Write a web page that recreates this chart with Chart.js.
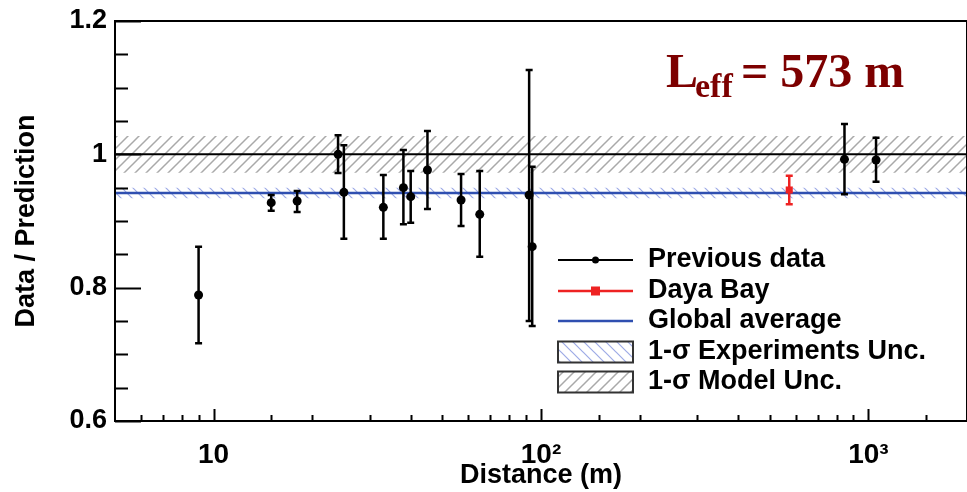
<!DOCTYPE html>
<html>
<head>
<meta charset="utf-8">
<script src="https://cdn.jsdelivr.net/npm/chart.js@4.4.1/dist/chart.umd.min.js"></script>
<style>
html, body { margin: 0; padding: 0; background: #fff; overflow: hidden; }
</style>
</head>
<body>
<canvas id="ratioChart" width="972" height="492"></canvas>
<script>
// previous reactor measurements: baseline (m), ratio and 1-sigma range
var prevDistance = [9, 15, 18, 24, 25, 33, 38, 40, 45, 57, 65, 92, 94, 845, 1055];
var prevRatio    = [0.789, 0.9275, 0.930, 1.000, 0.943, 0.9205, 0.950, 0.9365, 0.9765, 0.9315, 0.910, 0.939, 0.8615, 0.9925, 0.9915];
var prevLow      = [0.7165, 0.9155, 0.9135, 0.972, 0.8735, 0.8735, 0.895, 0.8975, 0.918, 0.8925, 0.8465, 0.750, 0.7425, 0.940, 0.959];
var prevHigh     = [0.8615, 0.939, 0.945, 1.0285, 1.0135, 0.969, 1.0065, 0.975, 1.035, 0.9705, 0.975, 1.1265, 0.9815, 1.0455, 1.025];

// Daya Bay
var dybDistance = [573];
var dybRatio    = [0.9465];
var dybLow      = [0.925];
var dybHigh     = [0.968];

// global average and uncertainty bands
var globalAvg = 0.942;
var expBand   = [0.934, 0.950];
var modelBand = [0.9725, 1.0275];
var xRange    = [5, 2000];
var yRange    = [0.6, 1.2];

// tick labels
var xTickValues = [10, 100, 1000];
var xTickLabels = ['10', '10\u00B2', '10\u00B3'];
var yTickValues = [0.6, 0.8, 1.0, 1.2];
var yTickLabels = ['0.6', '0.8', '1', '1.2'];

var legendLabels = ['Previous data', 'Daya Bay', 'Global average', '1-\u03C3 Experiments Unc.', '1-\u03C3 Model Unc.'];

var canvas = document.getElementById('ratioChart');
var ctx = canvas.getContext('2d');

// diagonal hatch patterns, like the ROOT fill styles
function hatch(color, width, dir) {
  var s = 11;
  var c = document.createElement('canvas');
  c.width = s; c.height = s;
  var g = c.getContext('2d');
  g.strokeStyle = color;
  g.lineWidth = width;
  g.beginPath();
  if (dir > 0) {
    g.moveTo(-1, s + 1); g.lineTo(s + 1, -1);
    g.moveTo(-2, 2); g.lineTo(2, -2);
    g.moveTo(s - 2, s + 2); g.lineTo(s + 2, s - 2);
  } else {
    g.moveTo(-1, -1); g.lineTo(s + 1, s + 1);
    g.moveTo(s - 2, -2); g.lineTo(s + 2, 2);
    g.moveTo(-2, s - 2); g.lineTo(2, s + 2);
  }
  g.stroke();
  return ctx.createPattern(c, 'repeat');
}
var modelPattern = hatch('#a9a9a9', 1.5, 1);
var expPattern = hatch('#9daae6', 1.2, -1);

function pts(xs, ys) {
  return xs.map(function (x, i) { return { x: x, y: ys[i] }; });
}
function findIdx(arr, v) {
  for (var i = 0; i < arr.length; i++) {
    if (Math.abs(arr[i] - v) < 1e-6 * Math.max(1, arr[i])) return i;
  }
  return -1;
}

var decor = {
  id: 'decor',
  // error bars go under the markers
  beforeDatasetDraw: function (chart, args) {
    var ds = chart.data.datasets[args.index];
    if (!ds.errLow) return;
    var c = chart.ctx, xs = chart.scales.x, ys = chart.scales.y;
    c.save();
    c.strokeStyle = ds.pointBackgroundColor;
    c.lineWidth = 2.5;
    ds.data.forEach(function (p, i) {
      var px = xs.getPixelForValue(p.x);
      var y1 = ys.getPixelForValue(ds.errLow[i]);
      var y2 = ys.getPixelForValue(ds.errHigh[i]);
      c.beginPath();
      c.moveTo(px, y1); c.lineTo(px, y2);
      c.moveTo(px - 3.5, y1); c.lineTo(px + 3.5, y1);
      c.moveTo(px - 3.5, y2); c.lineTo(px + 3.5, y2);
      c.stroke();
    });
    c.restore();
  },
  afterDraw: function (chart) {
    var c = chart.ctx, a = chart.chartArea, xs = chart.scales.x, ys = chart.scales.y;
    c.save();
    // frame
    c.strokeStyle = '#000';
    c.lineWidth = 2;
    c.strokeRect(a.left, a.top, a.right - a.left, a.bottom - a.top);
    // inward ticks
    c.beginPath();
    ys.ticks.forEach(function (t) {
      var py = Math.round(ys.getPixelForValue(t.value)) + 0.5;
      var len = findIdx(yTickValues, t.value) >= 0 ? 26 : 13;
      c.moveTo(a.left, py); c.lineTo(a.left + len, py);
    });
    xs.ticks.forEach(function (t) {
      if (t.value <= xRange[0] || t.value >= xRange[1]) return;
      var px = Math.round(xs.getPixelForValue(t.value)) + 0.5;
      var len = findIdx(xTickValues, t.value) >= 0 ? 12 : 6;
      c.moveTo(px, a.bottom); c.lineTo(px, a.bottom - len);
    });
    c.stroke();

    // legend
    var lx0 = 558, lx1 = 633, tx = 648;
    var rows = [260, 291, 321, 352, 382];
    c.lineWidth = 2;
    c.strokeStyle = '#000';
    c.beginPath(); c.moveTo(lx0, rows[0]); c.lineTo(lx1, rows[0]); c.stroke();
    c.fillStyle = '#000';
    c.beginPath(); c.arc((lx0 + lx1) / 2, rows[0], 3.5, 0, Math.PI * 2); c.fill();
    c.strokeStyle = '#ee2222'; c.lineWidth = 2.5;
    c.beginPath(); c.moveTo(lx0, rows[1]); c.lineTo(lx1, rows[1]); c.stroke();
    c.fillStyle = '#ee2222';
    c.fillRect((lx0 + lx1) / 2 - 4.5, rows[1] - 4.5, 9, 9);
    c.strokeStyle = '#2f4fb0'; c.lineWidth = 2.5;
    c.beginPath(); c.moveTo(lx0, rows[2]); c.lineTo(lx1, rows[2]); c.stroke();
    [[rows[3], expPattern], [rows[4], modelPattern]].forEach(function (r) {
      c.fillStyle = '#fff';
      c.fillRect(lx0, r[0] - 10.5, lx1 - lx0, 21);
      c.fillStyle = r[1];
      c.fillRect(lx0, r[0] - 10.5, lx1 - lx0, 21);
      c.strokeStyle = '#333'; c.lineWidth = 2;
      c.strokeRect(lx0, r[0] - 10.5, lx1 - lx0, 21);
    });
    c.fillStyle = '#000';
    c.font = 'bold 27px "Liberation Sans", Arial, sans-serif';
    c.textBaseline = 'alphabetic';
    c.textAlign = 'left';
    legendLabels.forEach(function (t, i) {
      c.fillText(t, tx, rows[i] + 7);
    });

    // L_eff annotation
    c.fillStyle = '#7d0000';
    c.font = 'bold 48px "Liberation Serif", "Times New Roman", serif';
    c.fillText('L', 666, 87);
    c.font = 'bold 34px "Liberation Serif", "Times New Roman", serif';
    c.fillText('eff', 695, 97);
    c.font = 'bold 48px "Liberation Serif", "Times New Roman", serif';
    c.fillText('= ' + dybDistance[0] + ' m', 741, 87);
    c.restore();
  }
};

var myChart = new Chart(ctx, {
  type: 'line',
  data: {
    datasets: [
      {
        label: 'Previous data',
        data: pts(prevDistance, prevRatio),
        errLow: prevLow,
        errHigh: prevHigh,
        showLine: false,
        pointRadius: 4.5,
        pointBackgroundColor: '#000',
        pointBorderWidth: 0
      },
      {
        label: 'Daya Bay',
        data: pts(dybDistance, dybRatio),
        errLow: dybLow,
        errHigh: dybHigh,
        showLine: false,
        pointStyle: 'rect',
        pointRadius: 5,
        pointBackgroundColor: '#ee2222',
        pointBorderWidth: 0
      },
      {
        label: 'Global average',
        data: pts(xRange, [globalAvg, globalAvg]),
        borderColor: '#2f4fb0',
        borderWidth: 2.5,
        pointRadius: 0
      },
      {
        label: 'Unity',
        data: pts(xRange, [1, 1]),
        borderColor: '#000',
        borderWidth: 2,
        pointRadius: 0
      },
      {
        label: 'Experiments band',
        data: pts(xRange, [expBand[1], expBand[1]]),
        fill: { value: expBand[0] },
        backgroundColor: expPattern,
        borderColor: 'rgba(0,0,0,0)',
        borderWidth: 0,
        pointRadius: 0
      },
      {
        label: 'Model band',
        data: pts(xRange, [modelBand[1], modelBand[1]]),
        fill: { value: modelBand[0] },
        backgroundColor: modelPattern,
        borderColor: 'rgba(0,0,0,0)',
        borderWidth: 0,
        pointRadius: 0
      }
    ]
  },
  options: {
    responsive: false,
    animation: false,
    layout: { padding: { top: 21, right: 0, left: 0, bottom: 0 } },
    plugins: {
      legend: { display: false },
      tooltip: { enabled: false }
    },
    scales: {
      x: {
        type: 'logarithmic',
        min: xRange[0],
        max: xRange[1],
        afterFit: function (s) { s.height = 71; s.paddingLeft = 0; s.paddingRight = 0; },
        grid: { display: false, drawTicks: false },
        border: { display: false },
        ticks: {
          autoSkip: false,
          maxRotation: 0,
          padding: 17,
          color: '#000',
          font: { family: '"Liberation Sans", Arial, sans-serif', size: 28, weight: 'bold' },
          callback: function (v) {
            var k = findIdx(xTickValues, v);
            return k >= 0 ? xTickLabels[k] : '';
          }
        },
        title: {
          display: true,
          text: 'Distance (m)',
          color: '#000',
          padding: { top: 0, bottom: 0 },
          font: { family: '"Liberation Sans", Arial, sans-serif', size: 27, weight: 'bold' }
        }
      },
      y: {
        min: yRange[0],
        max: yRange[1],
        afterFit: function (s) { s.width = 115; s.paddingTop = 0; s.paddingBottom = 0; },
        grid: { display: false, drawTicks: false },
        border: { display: false },
        ticks: {
          stepSize: 0.05,
          autoSkip: false,
          padding: 8,
          color: '#000',
          font: { family: '"Liberation Sans", Arial, sans-serif', size: 27, weight: 'bold' },
          callback: function (v) {
            var k = findIdx(yTickValues, v);
            return k >= 0 ? yTickLabels[k] : '';
          }
        },
        title: {
          display: true,
          text: 'Data / Prediction',
          color: '#000',
          padding: { top: 10, bottom: 0 },
          font: { family: '"Liberation Sans", Arial, sans-serif', size: 27, weight: 'bold' }
        }
      }
    }
  },
  plugins: [decor]
});
</script>
</body>
</html>
